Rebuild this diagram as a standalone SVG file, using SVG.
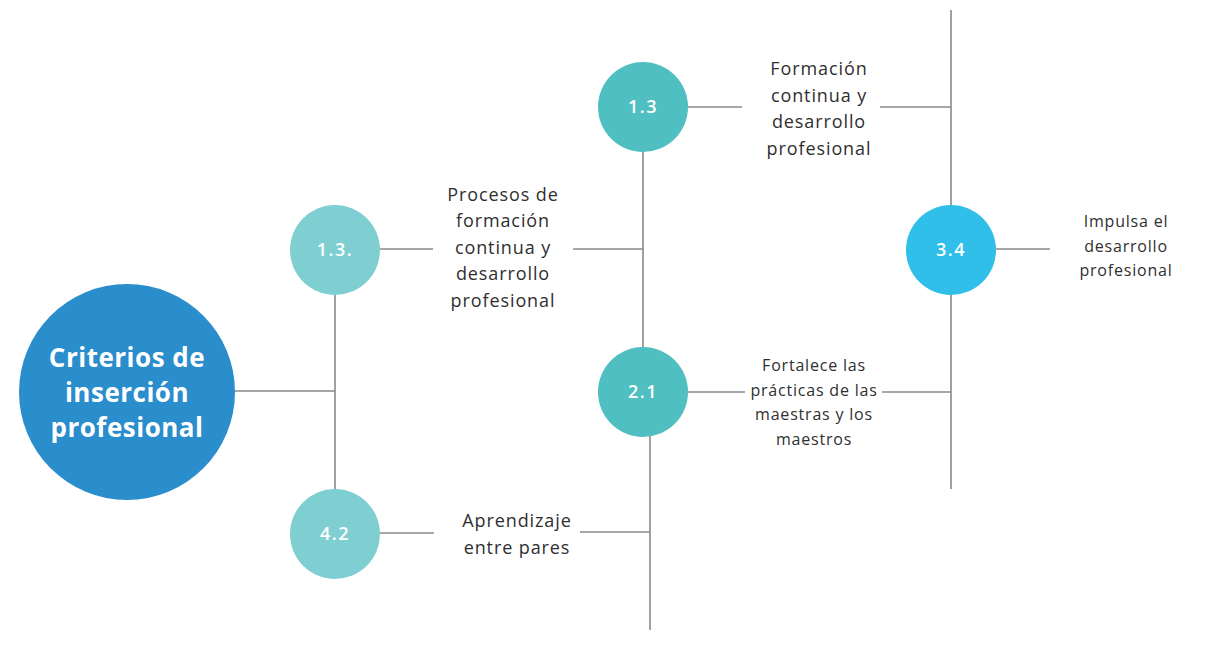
<svg xmlns="http://www.w3.org/2000/svg" width="1219" height="650" viewBox="0 0 1219 650">
<style>
.ln{stroke:#8a8a8a;stroke-width:1.6;fill:none}
.lbl{font-family:"Open Sans","Liberation Sans",sans-serif;font-size:18px;fill:#2f2f2f;text-anchor:middle;letter-spacing:0.9px}
.sm{font-size:16px;letter-spacing:0.8px}
.num{font-family:"Open Sans","Liberation Sans",sans-serif;font-size:18px;fill:#ffffff;text-anchor:middle;letter-spacing:1.5px;font-weight:600}
.big{font-family:"Open Sans","Liberation Sans",sans-serif;font-size:26px;fill:#ffffff;text-anchor:middle;font-weight:700;letter-spacing:0.5px}
</style>
<rect width="1219" height="650" fill="#ffffff"/>
<g id="connectors">
<line class="ln" x1="235" y1="391" x2="335" y2="391"/>
<line class="ln" x1="335" y1="293" x2="335" y2="491"/>
<line class="ln" x1="380" y1="249" x2="433" y2="249"/>
<line class="ln" x1="573" y1="249" x2="643" y2="249"/>
<line class="ln" x1="643" y1="152" x2="643" y2="348"/>
<line class="ln" x1="688" y1="107" x2="742" y2="107"/>
<line class="ln" x1="880" y1="107" x2="951" y2="107"/>
<line class="ln" x1="951" y1="10" x2="951" y2="206"/>
<line class="ln" x1="951" y1="294" x2="951" y2="489"/>
<line class="ln" x1="996" y1="249" x2="1050" y2="249"/>
<line class="ln" x1="688" y1="392" x2="745" y2="392"/>
<line class="ln" x1="882" y1="392" x2="951" y2="392"/>
<line class="ln" x1="650" y1="435" x2="650" y2="630"/>
<line class="ln" x1="380" y1="533" x2="434" y2="533"/>
<line class="ln" x1="580" y1="532" x2="650" y2="532"/>
</g>
<g id="root">
<circle cx="127" cy="392" r="108" fill="#2a8dcc"/>
<text class="big" x="127" y="367">Criterios de</text>
<text class="big" x="127" y="402">inserción</text>
<text class="big" x="127" y="437">profesional</text>
</g>
<g id="n13a">
<circle cx="335" cy="250" r="45" fill="#7fcfd2"/>
<text class="num" x="335" y="256">1.3.</text>
<text class="lbl" x="503" y="201">Procesos de</text>
<text class="lbl" x="503" y="227">formación</text>
<text class="lbl" x="503" y="254">continua y</text>
<text class="lbl" x="503" y="280">desarrollo</text>
<text class="lbl" x="503" y="307">profesional</text>
</g>
<g id="n13b">
<circle cx="643" cy="107" r="45" fill="#4fbfc1"/>
<text class="num" x="643" y="113">1.3</text>
<text class="lbl" x="819" y="75">Formación</text>
<text class="lbl" x="819" y="102">continua y</text>
<text class="lbl" x="819" y="128">desarrollo</text>
<text class="lbl" x="819" y="155">profesional</text>
</g>
<g id="n34">
<circle cx="951" cy="250" r="45" fill="#2fbfe8"/>
<text class="num" x="951" y="256">3.4</text>
<text class="lbl sm" x="1126" y="227">Impulsa el</text>
<text class="lbl sm" x="1126" y="252">desarrollo</text>
<text class="lbl sm" x="1126" y="276">profesional</text>
</g>
<g id="n21">
<circle cx="643" cy="392" r="45" fill="#4fbfc1"/>
<text class="num" x="643" y="398">2.1</text>
<text class="lbl sm" x="814" y="371">Fortalece las</text>
<text class="lbl sm" x="814" y="396">prácticas de las</text>
<text class="lbl sm" x="814" y="420">maestras y los</text>
<text class="lbl sm" x="814" y="445">maestros</text>
</g>
<g id="n42">
<circle cx="335" cy="534" r="45" fill="#7fcfd2"/>
<text class="num" x="335" y="540">4.2</text>
<text class="lbl" x="517" y="527">Aprendizaje</text>
<text class="lbl" x="517" y="554">entre pares</text>
</g>
</svg>
